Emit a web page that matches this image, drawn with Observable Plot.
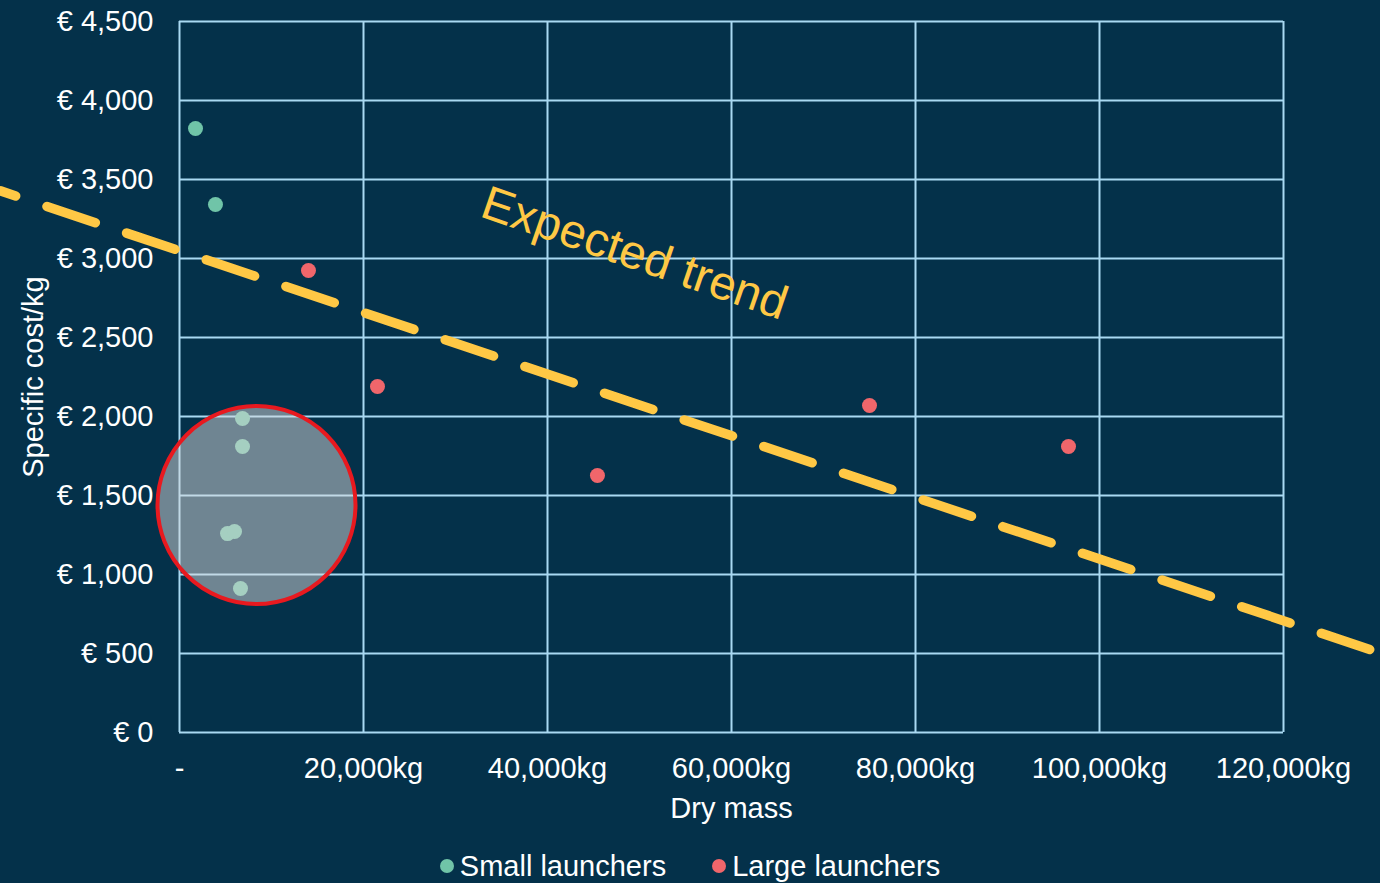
<!DOCTYPE html>
<html>
<head>
<meta charset="utf-8">
<script src="https://cdn.jsdelivr.net/npm/d3@7"></script>
<script src="https://cdn.jsdelivr.net/npm/@observablehq/plot@0.6"></script>
<style>
  html, body { margin: 0; padding: 0; background: #04314a; }
  body { width: 1380px; height: 883px; overflow: hidden; font-family: "Liberation Sans", Arial, sans-serif; }
  #legend { display: flex; justify-content: center; align-items: center; color: #fff; font-size: 29px; line-height: 34px; padding-top: 4px; }
  #legend .item { display: flex; align-items: center; margin: 0 23px; }
  #legend .dot { width: 14px; height: 14px; border-radius: 50%; margin-right: 6px; }
</style>
</head>
<body>
<div id="chart"></div>
<div id="legend"></div>
<script>
// Data
const smallMass = [1740, 3910, 6850, 6850, 5220, 5980, 6630];
const smallCost = [3823, 3342, 1987, 1810, 1259, 1272, 911];
const largeMass = [14020, 21520, 45430, 75000, 96630];
const largeCost = [2924, 2190, 1627, 2070, 1810];
const xTicks = [0, 20000, 40000, 60000, 80000, 100000, 120000];
const yTicks = [0, 500, 1000, 1500, 2000, 2500, 3000, 3500, 4000, 4500];
const trendMass = [-19457, 130543];
const trendCost = [3428, 502];
const highlightMass = [8370];
const highlightCost = [1440];
const seriesNames = ["Small launchers", "Large launchers"];
const seriesColors = ["#70c4a8", "#f0666b"];

const small = smallMass.map((m, i) => ({mass: m, cost: smallCost[i]}));
const large = largeMass.map((m, i) => ({mass: m, cost: largeCost[i]}));
const trend = trendMass.map((m, i) => ({mass: m, cost: trendCost[i]}));
const highlight = highlightMass.map((m, i) => ({mass: m, cost: highlightCost[i]}));

const fmt = d3.format(",");
const gridColor = "#a9d9f2";

const chart = Plot.plot({
  width: 1380,
  height: 845,
  marginLeft: 179,
  marginRight: 97,
  marginTop: 21,
  marginBottom: 113,
  style: {background: "transparent", color: "#ffffff", fontSize: "29px", fontFamily: "'Liberation Sans', Arial, sans-serif"},
  x: {domain: [0, 120000]},
  y: {domain: [0, 4500]},
  marks: [
    Plot.ruleX(xTicks, {stroke: gridColor, strokeWidth: 2}),
    Plot.ruleY(yTicks, {stroke: gridColor, strokeWidth: 2}),
    Plot.axisX({ticks: xTicks, tickSize: 0, tickPadding: 25, label: null,
      tickFormat: d => d === 0 ? "-" : fmt(d) + "kg", fill: "#ffffff"}),
    Plot.axisY({ticks: yTicks, tickSize: 0, tickPadding: 26, label: null,
      tickFormat: d => "€ " + fmt(d), fill: "#ffffff"}),
    Plot.text(["Dry mass"], {frameAnchor: "bottom", dy: 76, lineAnchor: "middle", textAnchor: "middle", fill: "#ffffff", fontSize: 29}),
    Plot.text(["Specific cost/kg"], {frameAnchor: "left", dx: -146, rotate: -90, lineAnchor: "middle", textAnchor: "middle", fill: "#ffffff", fontSize: 29}),
    Plot.dot(small, {x: "mass", y: "cost", r: 7.5, fill: seriesColors[0], stroke: "none"}),
    Plot.dot(large, {x: "mass", y: "cost", r: 7.5, fill: seriesColors[1], stroke: "none"}),
    Plot.dot(highlight, {x: "mass", y: "cost", r: 99, fill: "#d9d9d9", fillOpacity: 0.5, stroke: "#e8191f", strokeWidth: 4}),
    Plot.line(trend, {x: "mass", y: "cost", stroke: "#ffc845", strokeWidth: 9.5, strokeDasharray: "51,33", strokeDashoffset: 35}),
    Plot.text(["Expected trend"], {x: () => 49457, y: () => 3031, rotate: 19, fill: "#ffc845", fontSize: 47.5, textAnchor: "middle", lineAnchor: "middle"})
  ]
});
document.getElementById("chart").appendChild(chart);

const legend = document.getElementById("legend");
seriesNames.forEach((name, i) => {
  const item = document.createElement("div");
  item.className = "item";
  const dot = document.createElement("span");
  dot.className = "dot";
  dot.style.background = seriesColors[i];
  const label = document.createElement("span");
  label.textContent = name;
  item.appendChild(dot);
  item.appendChild(label);
  legend.appendChild(item);
});
</script>
</body>
</html>
